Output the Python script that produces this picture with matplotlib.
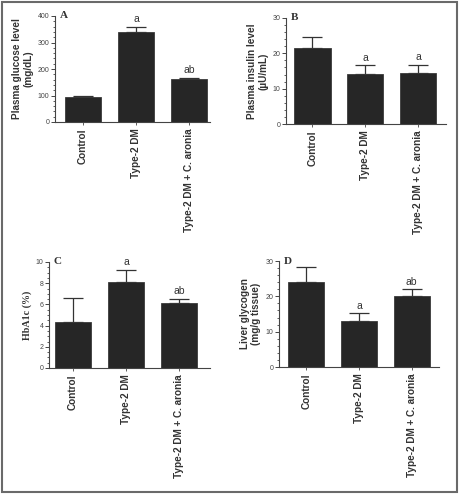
import matplotlib.pyplot as plt
from matplotlib.patches import Rectangle
from matplotlib.ticker import MultipleLocator

groups = ['Control', 'Type-2 DM', 'Type-2 DM + C. aronia']

glucose = [96, 340, 161]
glucose_err = [4, 18, 6]
insulin = [21.4, 14.1, 14.3]
insulin_err = [3.1, 2.5, 2.4]
hba1c = [4.37, 8.16, 6.1]
hba1c_err = [2.2, 1.1, 0.4]
glycogen = [24.1, 13.0, 20.1]
glycogen_err = [4.1, 2.2, 1.9]

sig_A = ['', 'a', 'ab']
sig_B = ['', 'a', 'a']
sig_C = ['', 'a', 'ab']
sig_D = ['', 'a', 'ab']

plt.rcParams['font.family'] = ['Liberation Sans', 'DejaVu Sans']

W, H = 459, 495
fig = plt.figure(figsize=(W / 100, H / 100), dpi=100)
fig.patches.append(Rectangle((2 / W, 1 - 492 / H), 455 / W, 490 / H, transform=fig.transFigure,
                             fill=False, edgecolor='#6a6a6a', linewidth=1.5))


def px_axes(x0, x1, y0, y1):
    return fig.add_axes([x0 / W, 1 - y1 / H, (x1 - x0) / W, (y1 - y0) / H])


panels = [
    # (axes px box, values, errors, sig, ymax, major, minor, ylabel, letter, xlim, label font)
    ((55, 210, 16, 122), glucose, glucose_err, sig_A, 400, 100, 20,
     'Plasma glucose level\n(mg/dL)', 'A', (-0.53, 2.4), 'Liberation Sans'),
    ((286, 446, 18, 124), insulin, insulin_err, sig_B, 30, 10, 2,
     'Plasma insulin level\n(µU/mL)', 'B', (-0.5, 2.52), 'Liberation Sans'),
    ((49, 210, 262, 368), hba1c, hba1c_err, sig_C, 10, 2, 0.5,
     'HbA1c (%)', 'C', (-0.45, 2.58), 'Liberation Serif'),
    ((279, 439, 261, 367), glycogen, glycogen_err, sig_D, 30, 10, 2,
     'Liver glycogen\n(mg/g tissue)', 'D', (-0.52, 2.52), 'Liberation Sans'),
]

dark = '#262626'
for box, vals, errs, sig, ymax, major, minor, ylabel, letter, xlim, lfont in panels:
    ax = px_axes(*box)
    x = range(len(groups))
    ax.bar(x, vals, width=0.68, color=dark, edgecolor='#3a3a3a', linewidth=0.6, zorder=2)
    ax.errorbar(x, vals, yerr=[[0] * len(errs), errs], fmt='none', ecolor='#333333',
                elinewidth=0.9, capsize=7, capthick=0.9, zorder=1)
    for xi, v, e, s in zip(x, vals, errs, sig):
        if s:
            ax.text(xi, v + e + ymax * 0.025, s, ha='center', va='bottom', fontsize=7.5,
                    color='#333333')
    ax.set_ylim(0, ymax)
    ax.set_xlim(*xlim)
    ax.yaxis.set_major_locator(MultipleLocator(major))
    ax.yaxis.set_minor_locator(MultipleLocator(minor))
    ax.set_xticks(list(x))
    ax.set_xticklabels(groups, rotation=90, fontsize=7.2, fontweight='bold', color='#333333')
    ax.tick_params(axis='y', which='major', length=3, width=0.7, labelsize=5,
                   colors='#444444', pad=1)
    ax.tick_params(axis='y', which='minor', length=1.6, width=0.6, colors='#444444')
    ax.tick_params(axis='x', length=2.5, width=0.6, pad=2, colors='#444444')
    for lab in ax.get_xticklabels():
        lab.set_color('#333333')
    for sp in ['top', 'right']:
        ax.spines[sp].set_visible(False)
    for sp in ['left', 'bottom']:
        ax.spines[sp].set_linewidth(0.8)
        ax.spines[sp].set_color('#444444')
    ax.set_ylabel(ylabel, fontsize=7.2, fontweight='bold', color='#333333', labelpad=3,
                  family=[lfont, 'DejaVu Sans'])
    ax.text(0.03, 1.0, letter, transform=ax.transAxes, ha='left', va='center',
            fontsize=8, fontweight='bold', family=['Liberation Serif'], color='#333333')

fig.savefig('out.png', dpi=100)
